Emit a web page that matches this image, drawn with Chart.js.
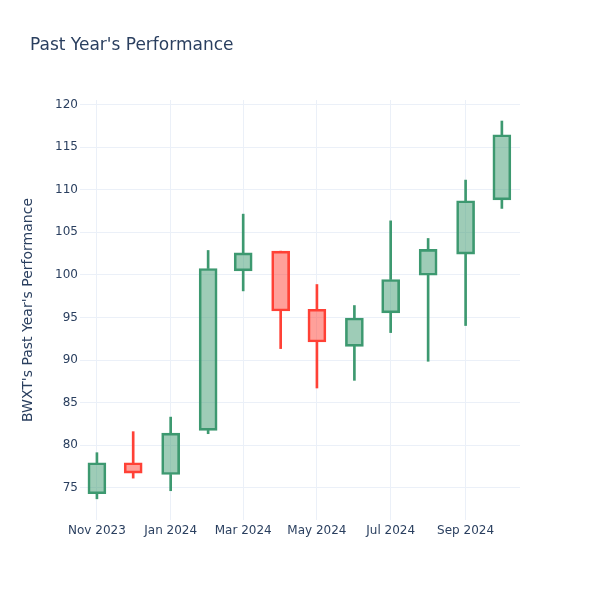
<!DOCTYPE html>
<html>
<head>
<meta charset="utf-8">
<script src="https://cdn.jsdelivr.net/npm/chart.js@4.4.1/dist/chart.umd.min.js"></script>
<style>
  html, body { margin: 0; padding: 0; background: #fff; }
  #wrap { width: 600px; height: 600px; }
</style>
</head>
<body>
<div id="wrap"><canvas id="candles" width="600" height="600"></canvas></div>
<script>
// monthly candles, one per month start
const months = ['2023-11-01', '2023-12-01', '2024-01-01', '2024-02-01', '2024-03-01', '2024-04-01',
                '2024-05-01', '2024-06-01', '2024-07-01', '2024-08-01', '2024-09-01', '2024-10-01'];
const openVals  = [74.28, 77.93, 76.55, 81.73, 100.47, 102.79, 95.96, 91.61, 95.53, 99.96, 102.44, 108.82];
const highVals  = [79.11, 81.58, 83.29, 102.87, 107.14, 102.79, 98.87, 96.40, 106.35, 104.28, 111.14, 118.08];
const lowVals   = [73.69, 76.12, 74.64, 81.34, 98.12, 91.34, 86.71, 87.61, 93.22, 89.85, 94.05, 107.81];
const closeVals = [77.93, 76.71, 81.41, 100.75, 102.59, 95.76, 92.12, 94.94, 99.46, 102.99, 108.71, 116.47];

const xTickDates  = ['2023-11-01', '2024-01-01', '2024-03-01', '2024-05-01', '2024-07-01', '2024-09-01'];
const xTickLabels = ['Nov 2023', 'Jan 2024', 'Mar 2024', 'May 2024', 'Jul 2024', 'Sep 2024'];
const yTicks = [75, 80, 85, 90, 95, 100, 105, 110, 115, 120];

const titleText = "Past Year's Performance";
const yTitle = "BWXT's Past Year's Performance";

const UP = '#3D9970', DOWN = '#FF4136';
const UP_FILL = 'rgba(61,153,112,0.5)', DOWN_FILL = 'rgba(255,65,54,0.5)';
const TEXT = '#2a3f5f', GRID = '#EBF0F8';
const FONT = '"DejaVu Sans", Verdana, sans-serif';

const dayOf = d => (Date.parse(d) - Date.parse(months[0])) / 864e5;
const isUp = months.map((m, i) => closeVals[i] >= openVals[i]);
const lineColors = isUp.map(u => u ? UP : DOWN);
const fillColors = isUp.map(u => u ? UP_FILL : DOWN_FILL);

const upperWick = months.map((m, i) => ({x: dayOf(m), y: [Math.max(openVals[i], closeVals[i]), highVals[i]]}));
const lowerWick = months.map((m, i) => ({x: dayOf(m), y: [lowVals[i], Math.min(openVals[i], closeVals[i])]}));
const bodies = months.map((m, i) => ({x: dayOf(m), y: [openVals[i], closeVals[i]]}));

const titlePlugin = {
    id: 'plotTitle',
    afterDraw(chart) {
        const ctx = chart.ctx;
        ctx.save();
        ctx.font = '17px ' + FONT;
        ctx.fillStyle = TEXT;
        ctx.textBaseline = 'alphabetic';
        ctx.fillText(titleText, 30, 50);
        ctx.restore();
    }
};

new Chart(document.getElementById('candles'), {
    type: 'bar',
    data: {
        datasets: [
            {data: upperWick, backgroundColor: lineColors, barThickness: 2, grouped: false, borderWidth: 0},
            {data: lowerWick, backgroundColor: lineColors, barThickness: 2, grouped: false, borderWidth: 0},
            {data: bodies, backgroundColor: fillColors, borderColor: lineColors, borderWidth: 2,
             borderSkipped: false, barThickness: 18, grouped: false}
        ]
    },
    options: {
        responsive: false,
        animation: false,
        events: [],
        layout: {padding: {top: 100, right: 80, left: 0, bottom: 0}},
        plugins: {
            legend: {display: false},
            tooltip: {enabled: false}
        },
        scales: {
            x: {
                type: 'linear',
                min: -14,
                max: 350,
                offset: false,
                grid: {color: GRID, offset: false, drawTicks: false},
                border: {display: false},
                afterBuildTicks: s => { s.ticks = xTickDates.map(d => ({value: dayOf(d)})); },
                afterFit: s => { s.height = 80; },
                ticks: {
                    color: TEXT,
                    font: {family: FONT, size: 12},
                    padding: 4,
                    maxRotation: 0,
                    autoSkip: false,
                    callback: (v, i) => xTickLabels[i]
                }
            },
            y: {
                min: 71.2,
                max: 120.55,
                grid: {color: GRID, drawTicks: false},
                border: {display: false},
                afterBuildTicks: s => { s.ticks = yTicks.map(v => ({value: v})); },
                afterFit: s => { s.width = 80; },
                ticks: {
                    color: TEXT,
                    font: {family: FONT, size: 12},
                    padding: 2
                },
                title: {
                    display: true,
                    text: yTitle,
                    color: TEXT,
                    font: {family: FONT, size: 14},
                    padding: {top: 20, bottom: 0}
                }
            }
        }
    },
    plugins: [titlePlugin]
});
</script>
</body>
</html>
